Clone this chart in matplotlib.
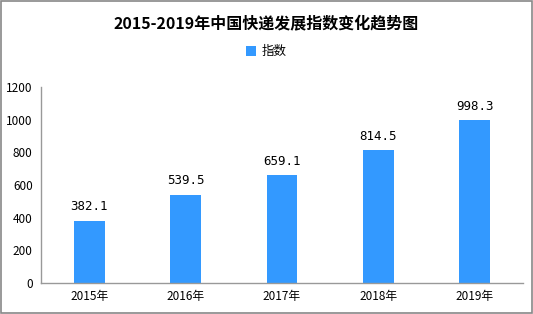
import matplotlib
matplotlib.use("Agg")
import matplotlib.pyplot as plt
from matplotlib.patches import Rectangle

plt.rcParams['font.family'] = ['Noto Sans CJK SC', 'DejaVu Sans']

# data
years = ['2015年', '2016年', '2017年', '2018年', '2019年']
index_values = [382.1, 539.5, 659.1, 814.5, 998.3]
y_ticks = [0, 200, 400, 600, 800, 1000, 1200]

bar_color = '#3399FF'

fig = plt.figure(figsize=(5.33, 3.14), dpi=100)
ax = fig.add_axes([0.077, 0.099, 0.904, 0.624])

x = range(len(years))
bars = ax.bar(x, index_values, width=0.32, color=bar_color, label='指数')

for xi, v in zip(x, index_values):
    ax.text(xi, v + 45, f'{v:.1f}', ha='center', va='bottom',
            fontsize=9, family=['DejaVu Sans Mono'])

ax.set_xlim(-0.5, len(years) - 0.5)
ax.set_ylim(0, 1200)
ax.set_yticks(y_ticks)
ax.set_xticks(list(x))
ax.set_xticklabels(years, fontsize=8.5)
ax.tick_params(axis='y', labelsize=8.5, length=0, pad=6)
ax.tick_params(axis='x', length=0, pad=5)
for s in ['top', 'right']:
    ax.spines[s].set_visible(False)
for s in ['left', 'bottom']:
    ax.spines[s].set_color('#999999')
    ax.spines[s].set_linewidth(1)

fig.text(0.5, 0.925, '2015-2019年中国快递发展指数变化趋势图', ha='center',
         va='center', fontsize=11.5, fontweight='bold')
fig.legend(handles=[bars], labels=['指数'], loc='center',
           bbox_to_anchor=(0.5, 0.835), frameon=False, fontsize=9,
           handlelength=0.8, handleheight=0.8, handletextpad=0.5)

fig.patches.append(Rectangle((0.002, 0.003), 0.996, 0.994, transform=fig.transFigure,
                             fill=False, edgecolor='#888888', linewidth=1.2))

fig.savefig('out.png', dpi=100)
